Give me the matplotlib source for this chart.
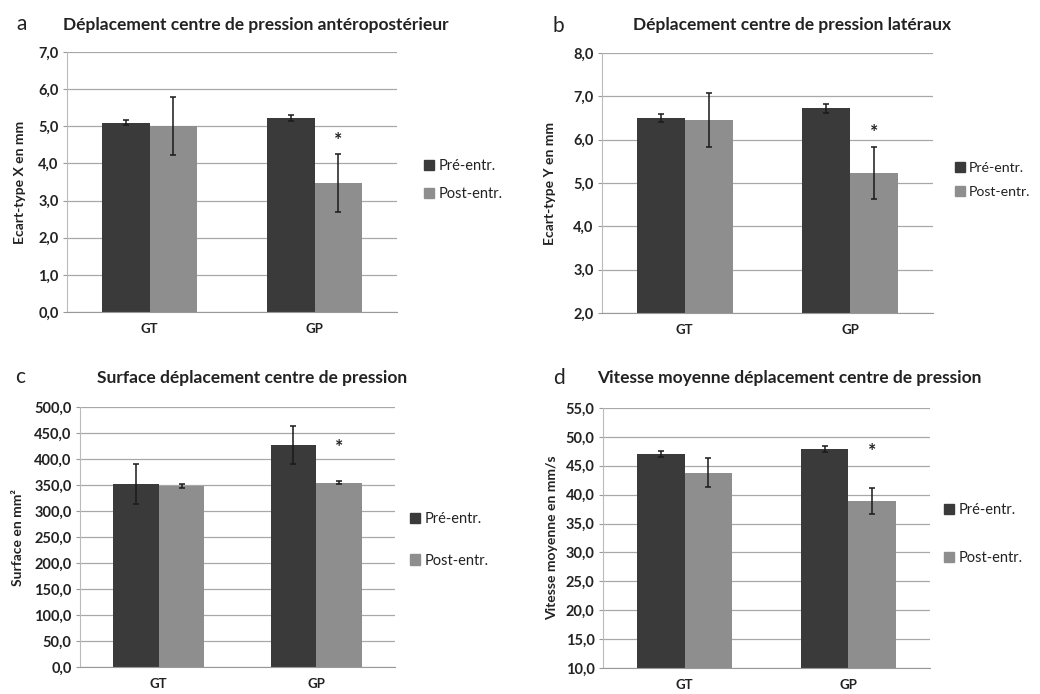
import matplotlib
matplotlib.use("Agg")
import matplotlib.pyplot as plt
from matplotlib.patches import Rectangle
import numpy as np

plt.rcParams['font.family'] = ['Lato', 'DejaVu Sans']

categories = ['GT', 'GP']
series_names = ['Pré-entr.', 'Post-entr.']

a_pre = [5.10, 5.22]
a_pre_err = [0.07, 0.08]
a_post = [5.02, 3.47]
a_post_err = [0.78, 0.78]

b_pre = [6.50, 6.72]
b_pre_err = [0.10, 0.10]
b_post = [6.45, 5.22]
b_post_err = [0.62, 0.60]

c_pre = [352.0, 427.0]
c_pre_err = [39.0, 37.0]
c_post = [348.0, 354.0]
c_post_err = [3.0, 3.0]

d_pre = [47.0, 47.9]
d_pre_err = [0.5, 0.5]
d_post = [43.8, 38.9]
d_post_err = [2.5, 2.3]

titles = ['Déplacement centre de pression antéropostérieur',
          'Déplacement centre de pression latéraux',
          'Surface déplacement centre de pression',
          'Vitesse moyenne déplacement centre de pression']
letters = ['a', 'b', 'c', 'd']
ylabels = ['Ecart-type X en mm', 'Ecart-type Y en mm', 'Surface en mm²',
           'Vitesse moyenne en mm/s']
ylims = [(0, 7), (2, 8), (0, 500), (10, 55)]
ysteps = [1, 1, 50, 5]
star_y = [4.63, 6.16, 423, 47.4]

col_pre = '#3a3a3a'
col_post = '#8e8e8e'

W, H = 1040, 694
fig = plt.figure(figsize=(W / 100, H / 100), dpi=100)
fig.patch.set_facecolor('white')

# axes boxes in pixels: left, top, right, bottom
boxes = [(67, 52, 397, 312), (602, 53, 933, 313),
         (80, 407, 395, 667), (603, 408, 930, 668)]
title_pos = [(256, 25), (792, 25), (252, 378), (789, 378)]
letter_pos = [(22, 24), (558, 26), (20, 377), (559, 378)]
legend_pos = [(424, 180), (955, 180), (410, 540), (944, 534)]
legend_gap = [30, 28, 43, 50]
legend_fs = [10.5, 10.2, 10.5, 10.5]
ylabel_x = [20, 550, 18, 552]

data = [(a_pre, a_pre_err, a_post, a_post_err),
        (b_pre, b_pre_err, b_post, b_post_err),
        (c_pre, c_pre_err, c_post, c_post_err),
        (d_pre, d_pre_err, d_post, d_post_err)]

bw = 0.29
x = np.arange(len(categories))
for i in range(4):
    l, t, r, b = boxes[i]
    ax = fig.add_axes([l / W, 1 - b / H, (r - l) / W, (b - t) / H])
    pre, pre_err, post, post_err = data[i]
    ax.bar(x - bw / 2, pre, bw, color=col_pre, zorder=2, label=series_names[0])
    ax.bar(x + bw / 2, post, bw, color=col_post, zorder=2, label=series_names[1])
    ax.errorbar(x - bw / 2, pre, yerr=pre_err, fmt='none', ecolor='#1a1a1a',
                elinewidth=1.1, capsize=2.5, capthick=1.1, zorder=3)
    ax.errorbar(x + bw / 2, post, yerr=post_err, fmt='none', ecolor='#1a1a1a',
                elinewidth=1.1, capsize=2.5, capthick=1.1, zorder=3)
    ax.text(x[1] + bw / 2, star_y[i], '*', ha='center', va='center',
            fontsize=14, fontweight='bold', color='#222222')
    lo, hi = ylims[i]
    ax.set_ylim(lo, hi)
    ax.set_xlim(-0.5, 1.5)
    ticks = np.arange(lo, hi + ysteps[i] / 2, ysteps[i])
    ax.set_yticks(ticks)
    ax.set_yticklabels([f'{v:.1f}'.replace('.', ',') for v in ticks],
                       fontsize=10.5, color='#222222', fontweight='bold')
    ax.set_xticks(x)
    ax.set_xticklabels(categories, fontsize=9.5, color='#222222', fontweight='bold')
    ax.tick_params(axis='x', length=0, pad=8)
    ax.tick_params(axis='y', length=3, color='#999999', pad=3)
    ax.grid(axis='y', color='#a8a8a8', linewidth=0.9, zorder=0)
    ax.set_axisbelow(True)
    for s in ['top', 'right']:
        ax.spines[s].set_visible(False)
    ax.spines['left'].set_color('#bbbbbb')
    ax.spines['bottom'].set_color('#999999')
    # y label
    fig.text(ylabel_x[i] / W, 1 - (t + b) / 2 / H, ylabels[i], rotation=90,
             ha='center', va='center', fontsize=10, fontweight='bold',
             color='#222222')
    # title
    fig.text(title_pos[i][0] / W, 1 - title_pos[i][1] / H, titles[i],
             ha='center', va='center', fontsize=12.5, fontweight='bold',
             color='#222222')
    fig.text(letter_pos[i][0] / W, 1 - letter_pos[i][1] / H, letters[i],
             ha='center', va='center', fontsize=15, color='#222222')
    # legend
    lx, ly = legend_pos[i]
    handles = [Rectangle((0, 0), 1, 1, color=col_pre),
               Rectangle((0, 0), 1, 1, color=col_post)]
    leg = fig.legend(handles, series_names, loc='center left',
                     bbox_to_anchor=(lx / W, 1 - ly / H), frameon=False,
                     fontsize=legend_fs[i], handlelength=0.7, handleheight=0.7,
                     handletextpad=0.3, borderpad=0, borderaxespad=0,
                     labelspacing=(legend_gap[i] - 15) / 15)
    for txt in leg.get_texts():
        txt.set_color('#222222')

fig.savefig('out.png', dpi=100, facecolor='white')
